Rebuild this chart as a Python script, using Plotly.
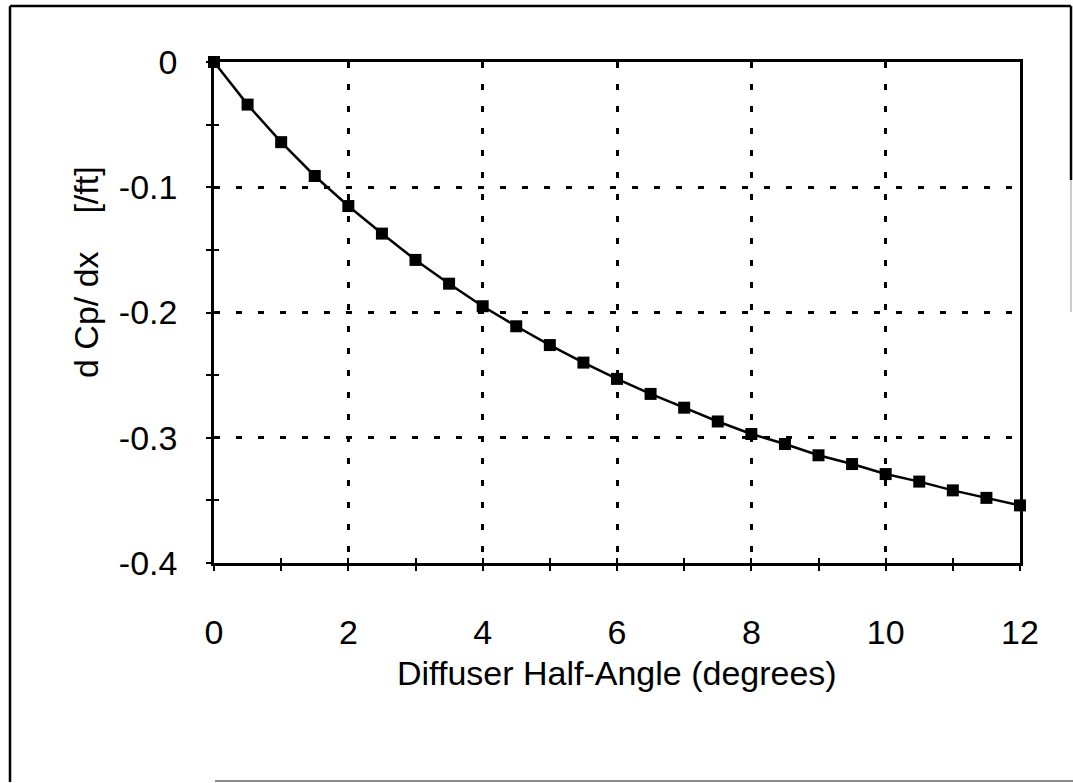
import plotly.graph_objects as go

# Diffuser half-angle (degrees) and pressure-gradient values
half_angle = [0, 0.5, 1, 1.5, 2, 2.5, 3, 3.5, 4, 4.5, 5, 5.5, 6,
              6.5, 7, 7.5, 8, 8.5, 9, 9.5, 10, 10.5, 11, 11.5, 12]
dcp_dx = [0, -0.034, -0.064, -0.091, -0.115, -0.137, -0.158, -0.177,
          -0.195, -0.211, -0.226, -0.240, -0.253, -0.265, -0.276,
          -0.287, -0.297, -0.305, -0.314, -0.321, -0.329, -0.335,
          -0.342, -0.348, -0.354]

x_tick_vals = [0, 2, 4, 6, 8, 10, 12]
x_tick_text = ["0", "2", "4", "6", "8", "10", "12"]
y_tick_vals = [0, -0.1, -0.2, -0.3, -0.4]
y_tick_text = ["0", "-0.1", "-0.2", "-0.3", "-0.4"]

x_title = "Diffuser Half-Angle (degrees)"
y_title = "d Cp/ dx\u00a0\u00a0\u00a0\u00a0[/ft]"

FONT = "Liberation Sans, Arial, Helvetica, sans-serif"
FS = 34
W, H = 1073, 783
L, R, T, B = 214, 53, 62, 220
PW, PH = W - L - R, H - T - B


def px_to_paper_x(px):
    return (px - L) / PW


def px_to_paper_y(py):
    return (H - B - py) / PH


fig = go.Figure()
fig.add_trace(go.Scatter(
    x=half_angle, y=dcp_dx, mode="lines+markers",
    line=dict(color="black", width=2.5),
    marker=dict(symbol="square", size=12, color="black"),
    showlegend=False, cliponaxis=False,
))

# invisible overlay axes that add inward tick halves, so ticks cross the axis lines
fig.add_trace(go.Scatter(x=[0], y=[0], xaxis="x2", yaxis="y2",
                         mode="markers", marker=dict(opacity=0),
                         showlegend=False, hoverinfo="skip"))

grid_dash = "6px,16px"
fig.update_layout(
    width=W, height=H,
    margin=dict(l=L, r=R, t=T, b=B),
    paper_bgcolor="white", plot_bgcolor="white",
    font=dict(family=FONT, size=FS, color="black"),
    xaxis=dict(
        range=[0, 12], tickmode="array", tickvals=x_tick_vals, ticktext=x_tick_text,
        showline=True, linecolor="black", linewidth=2.5, mirror=True,
        ticks="outside", ticklen=5, tickwidth=2, tickcolor="black",
        minor=dict(dtick=1, ticks="outside", ticklen=5, tickwidth=2,
                   tickcolor="black", showgrid=False),
        showgrid=True, gridcolor="black", gridwidth=2.5, griddash=grid_dash,
        zeroline=False, ticklabelstandoff=32,
        tickfont=dict(family=FONT, size=FS),
    ),
    yaxis=dict(
        range=[-0.4, 0], tickmode="array", tickvals=y_tick_vals, ticktext=y_tick_text,
        showline=True, linecolor="black", linewidth=2.5, mirror=True,
        ticks="outside", ticklen=5, tickwidth=2, tickcolor="black",
        minor=dict(dtick=0.05, ticks="outside", ticklen=5, tickwidth=2,
                   tickcolor="black", showgrid=False),
        showgrid=True, gridcolor="black", gridwidth=2.5, griddash=grid_dash,
        zeroline=False, ticklabelstandoff=22,
        tickfont=dict(family=FONT, size=FS),
    ),
    xaxis2=dict(range=[0, 12], overlaying="x", anchor="y", side="bottom",
                dtick=1, tick0=0, ticks="inside", ticklen=5, tickwidth=2,
                tickcolor="black", showticklabels=False, showgrid=False,
                zeroline=False, showline=False),
    yaxis2=dict(range=[-0.4, 0], overlaying="y", anchor="x", side="left",
                dtick=0.05, tick0=0, ticks="inside", ticklen=5, tickwidth=2,
                tickcolor="black", showticklabels=False, showgrid=False,
                zeroline=False, showline=False),
    annotations=[
        dict(text=x_title, xref="paper", yref="paper",
             x=px_to_paper_x(617), y=px_to_paper_y(673),
             xanchor="center", yanchor="middle", showarrow=False,
             font=dict(family=FONT, size=FS, color="black")),
        dict(text=y_title, xref="paper", yref="paper",
             x=px_to_paper_x(86), y=px_to_paper_y(272),
             xanchor="center", yanchor="middle", showarrow=False, textangle=-90,
             font=dict(family=FONT, size=FS, color="black")),
    ],
    shapes=[
        # outer chart frame
        dict(type="line", xref="paper", yref="paper",
             x0=px_to_paper_x(10), x1=px_to_paper_x(10),
             y0=px_to_paper_y(6), y1=px_to_paper_y(782),
             line=dict(color="black", width=2.5)),
        dict(type="line", xref="paper", yref="paper",
             x0=px_to_paper_x(10), x1=px_to_paper_x(1071),
             y0=px_to_paper_y(6), y1=px_to_paper_y(6),
             line=dict(color="black", width=2.5)),
        dict(type="line", xref="paper", yref="paper",
             x0=px_to_paper_x(1071), x1=px_to_paper_x(1071),
             y0=px_to_paper_y(6), y1=px_to_paper_y(180),
             line=dict(color="black", width=2.5)),
        dict(type="line", xref="paper", yref="paper",
             x0=px_to_paper_x(1071), x1=px_to_paper_x(1071),
             y0=px_to_paper_y(180), y1=px_to_paper_y(312),
             line=dict(color="#9a9a9a", width=1)),
        dict(type="line", xref="paper", yref="paper",
             x0=px_to_paper_x(215), x1=px_to_paper_x(1073),
             y0=px_to_paper_y(781), y1=px_to_paper_y(781),
             line=dict(color="#8a8a8a", width=2)),
    ],
)

fig.write_html("out.html")
